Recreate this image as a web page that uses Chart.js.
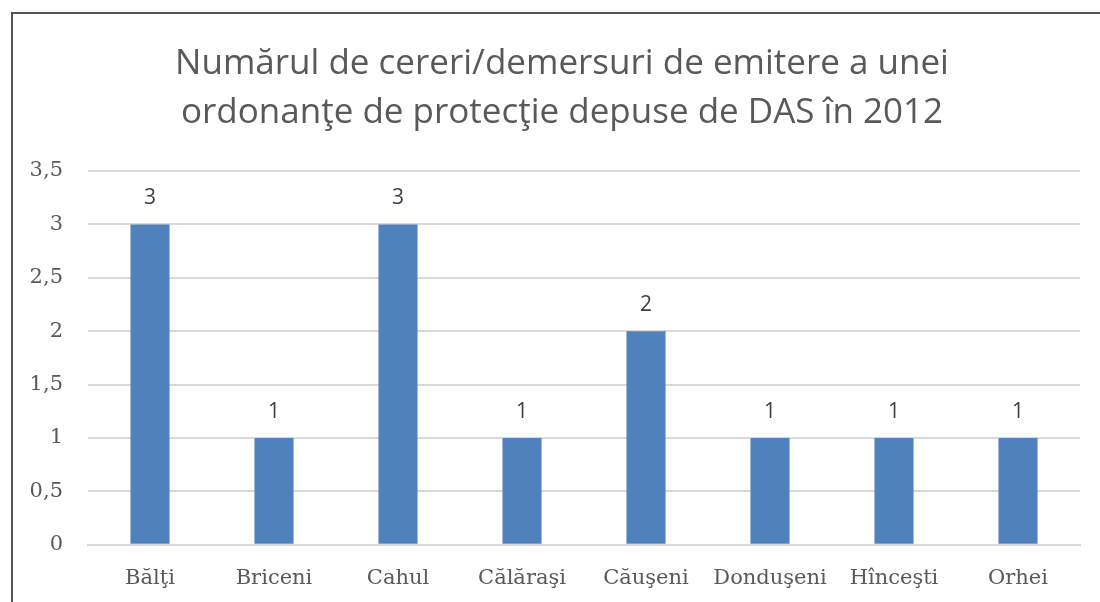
<!DOCTYPE html>
<html>
<head>
<meta charset="utf-8">
<script src="https://cdn.jsdelivr.net/npm/chart.js@4.4.1/dist/chart.umd.min.js"></script>
<style>
  html, body { margin: 0; padding: 0; background: #fff; }
  #wrap { position: relative; width: 1100px; height: 602px; overflow: hidden; }
  #frame { position: absolute; left: 11px; top: 12px; width: 1100px; height: 600px;
           border-left: 2px solid #555; border-top: 2px solid #555; pointer-events: none; }
  canvas { position: absolute; left: 0; top: 0; }
</style>
</head>
<body>
<div id="wrap">
  <canvas id="c" width="1100" height="602"></canvas>
  <div id="frame"></div>
</div>
<script>
const categories = ["Bălţi", "Briceni", "Cahul", "Călăraşi", "Căuşeni", "Donduşeni", "Hînceşti", "Orhei"];
const values = [3, 1, 3, 1, 2, 1, 1, 1];
const titleLines = ["Numărul de cereri/demersuri de emitere a unei", "ordonanţe de protecţie depuse de DAS în 2012"];
const yTicks = [0, 0.5, 1, 1.5, 2, 2.5, 3, 3.5];

const serif = "'DejaVu Serif', serif";
const sans = "'Open Sans', sans-serif";

const labelPlugin = {
  id: 'valueLabels',
  afterLayout(chart) {
    // centre the title over the framed area rather than the plot
    if (chart.titleBlock) chart.titleBlock.left += 44;
  },
  afterDatasetsDraw(chart) {
    const ctx = chart.ctx;
    const meta = chart.getDatasetMeta(0);
    ctx.save();
    ctx.font = "21px " + sans;
    ctx.fillStyle = "#404040";
    ctx.textAlign = "center";
    ctx.textBaseline = "middle";
    meta.data.forEach((bar, i) => {
      ctx.fillText(String(values[i]).replace('.', ','), bar.x, bar.y - 26);
    });
    ctx.restore();
  }
};

new Chart(document.getElementById('c'), {
  type: 'bar',
  data: {
    labels: categories,
    datasets: [{
      data: values,
      backgroundColor: '#4F81BD',
      borderWidth: 0,
      categoryPercentage: 1,
      barPercentage: 0.315
    }]
  },
  options: {
    responsive: false,
    animation: false,
    devicePixelRatio: 1,
    layout: { padding: { left: 0, right: 20, top: 0, bottom: -10 } },
    plugins: {
      legend: { display: false },
      tooltip: { enabled: false },
      title: {
        display: true,
        text: titleLines,
        color: '#595959',
        font: { family: sans, size: 35, weight: 'normal', lineHeight: 1.4 },
        padding: { top: 39.5, bottom: 33.5 }
      }
    },
    scales: {
      x: {
        grid: { display: false, drawTicks: false },
        border: { display: true, color: '#d9d9d9', width: 2 },
        ticks: { color: '#595959', font: { family: serif, size: 21 }, padding: 21, maxRotation: 0 }
      },
      y: {
        min: 0, max: 3.5,
        afterBuildTicks(scale) { scale.ticks = yTicks.map(v => ({ value: v })); },
        afterFit(scale) { scale.width = 88; },
        grid: { color: '#d9d9d9', lineWidth: 2, drawTicks: false },
        border: { display: false },
        ticks: {
          color: '#595959',
          font: { family: serif, size: 21 },
          padding: 25,
          callback: v => String(v).replace('.', ',')
        }
      }
    }
  },
  plugins: [labelPlugin]
});
</script>
</body>
</html>
